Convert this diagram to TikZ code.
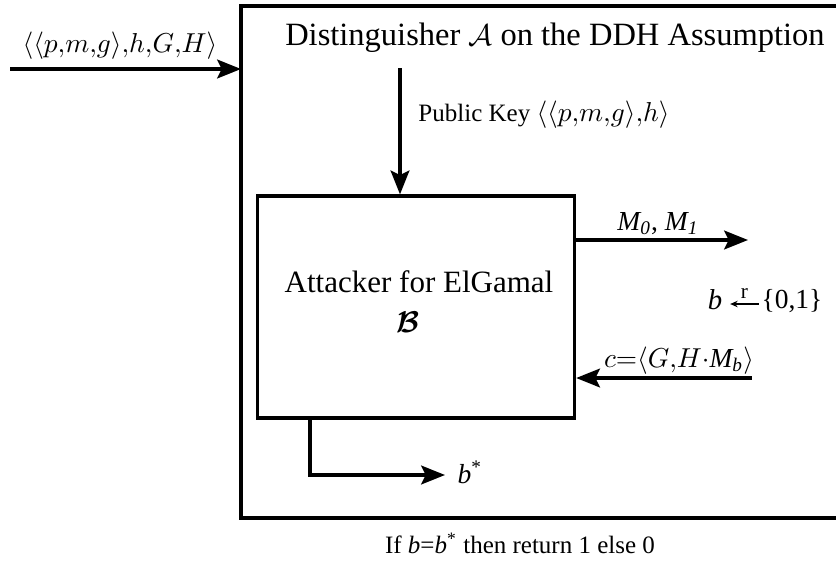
\documentclass[tikz,border=0pt]{standalone}
\usepackage{fontspec}
\setmainfont{Liberation Serif}
\usepackage{amsmath,bm}
\usetikzlibrary{arrows.meta}
\begin{document}
\begin{tikzpicture}[x=0.4pt,y=-0.4pt,
  line/.style={line width=1.35pt},
  arr/.style={line width=1.35pt,-{Stealth[length=9.5pt,width=7.5pt,inset=1.8pt]}},
  smallarr/.style={line width=0.45pt,-{Stealth[length=3pt,width=2.6pt]}},
  big/.style={font=\fontsize{12.4}{15}\selectfont, inner sep=0pt},
  lab/.style={font=\fontsize{10}{12}\selectfont, inner sep=0pt},
  mlab/.style={font=\fontsize{11}{13}\selectfont, inner sep=0pt},
  box/.style={draw, line width=1.35pt, minimum width=126.8pt, minimum height=88.8pt, inner sep=0pt}]
\useasboundingbox (0,0) rectangle (836,569);
% outer box (right side beyond the picture)
\coordinate (oTR) at (840,6);
\coordinate (oTL) at (241,6);
\coordinate (oBL) at (241,518);
\coordinate (oBR) at (840,518);
\draw[line] (oTR) -- (oTL) -- (oBL) -- (oBR);
% input
\coordinate (inS) at (10,69);
\coordinate (inE) at (241,69);
\draw[arr] (inS) -- (inE);
\node[mlab] (inlab) at (120,46) {$\langle\langle p{,}m{,}g\rangle{,}h{,}G{,}H\rangle$};
% title
\node[big, font=\fontsize{13}{16}\selectfont] (title) at (555,38) {Distinguisher $\mathcal{A}$ on the DDH Assumption};
% inner box
\node[box] (B) at (416,307) {};
\node[big] (Btext) at (419,282) {Attacker for ElGamal};
\node[big] (Bsym) at (408,322) {$\boldsymbol{\mathcal{B}}$};
% public key
\coordinate (pkS) at (400,68);
\draw[arr] (pkS) -- (pkS |- B.north);
\node[lab, anchor=west] (pklab) at (418,115) {Public Key {\fontsize{11}{13}\selectfont$\langle\langle p{,}m{,}g\rangle{,}h\rangle$}};
% M0, M1
\coordinate (mE) at (748,240);
\draw[arr] (mE -| B.east) -- (mE);
\node[mlab] (mlab) at (658,224) {\textit{M\textsubscript{0}}, \textit{M\textsubscript{1}}};
% b <- {0,1}
\node[mlab, font=\fontsize{11.5}{13}\selectfont] (bb) at (715,300) {\textit{b}};
\node[mlab] (bset) at (792,301) {\{0,1\}};
\coordinate (arY) at (0,304);
\draw[smallarr] ([xshift=-1pt]arY -| bset.west) -- ([xshift=3pt]arY -| bb.east)
  node[midway, above=2pt, inner sep=0pt, font=\fontsize{8.5}{10}\selectfont] (rlab) {r};
% c
\coordinate (cS) at (752,378);
\draw[arr] (cS) -- (cS -| B.east);
\node[mlab] (clab) at (679,361) {$c{=}\langle G{,}H\cdot$\textit{M\textsubscript{b}}$\rangle$};
% b*
\coordinate (bd) at (310,475);
\coordinate (bE) at (445,475);
\draw[arr] (bd |- B.south) -- (bd) -- (bE);
\node[mlab] (bstar) at (470,472) {\textit{b}\textsuperscript{*}};
% bottom
\node[lab] (result) at (520,543) {If \textit{b}=\textit{b}\textsuperscript{*} then return 1 else 0};
\end{tikzpicture}
\end{document}
